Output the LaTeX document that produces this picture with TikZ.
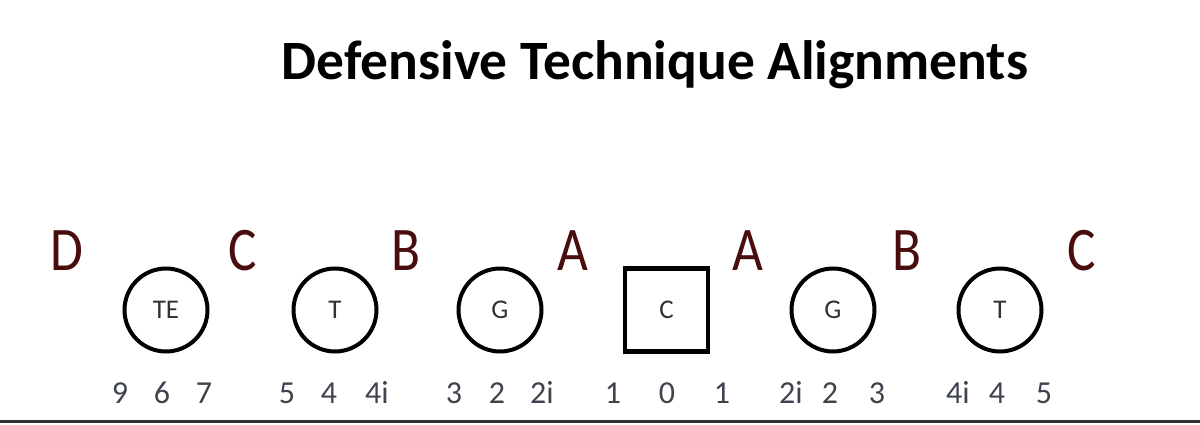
\documentclass[tikz,border=0pt]{standalone}
\usepackage{fontspec}
\setmainfont{Carlito}
\newfontfamily\gapfont[FakeStretch=0.86]{Carlito}
\definecolor{gapred}{HTML}{4A0D0D}
\definecolor{numgray}{HTML}{3E434D}
\definecolor{lblgray}{HTML}{333333}
\begin{document}
\begin{tikzpicture}[x=1pt,y=1pt,
  playerbox/.style={draw=black,line width=4pt,circle,minimum size=83pt,inner sep=0pt,
    text=lblgray,font=\fontsize{27}{27}\selectfont},
  centerbox/.style={draw=black,line width=4.5pt,rectangle,minimum size=83pt,inner sep=0pt,
    text=lblgray,font=\fontsize{27}{27}\selectfont},
  gap/.style={font=\gapfont\fontsize{62}{62}\selectfont,text=gapred,anchor=base,inner sep=0pt},
  tech/.style={font=\fontsize{32}{32}\selectfont,text=numgray,anchor=base,inner sep=0pt},
  title/.style={font=\bfseries\fontsize{55.5}{55.5}\selectfont,anchor=base,inner sep=0pt}]
\useasboundingbox (0,0) rectangle (1200,424);
\node[title] (ttl) at (655,344) {Defensive Technique Alignments};
% players
\node[playerbox] (te) at (166,114) {TE};
\node[playerbox] (lt) at (335,114) {T};
\node[playerbox] (lg) at (500,114) {G};
\node[centerbox] (c) at (666.5,114) {C};
\node[playerbox] (rg) at (833,114) {G};
\node[playerbox] (rt) at (1000,114) {T};
% gaps
\node[gap] (gd) at (67,154) {D};
\node[gap] (gc1) at (243,154) {C};
\node[gap] (gb1) at (406,154) {B};
\node[gap] (ga1) at (573,154) {A};
\node[gap] (ga2) at (748,154) {A};
\node[gap] (gb2) at (907,154) {B};
\node[gap] (gc2) at (1082,154) {C};
% techniques
\foreach \lab/\xx [count=\i] in {9/120,6/162,7/204,5/287,4/329,4i/377,3/454,2/497,2i/542,1/613,0/667,1/722,2i/791,2/830,3/877,4i/958,4/997,5/1044}
  \node[tech] (t\i) at (\xx,21) {\lab};
% bottom rule
\coordinate (bl) at (0,2.5);
\coordinate (br) at (1200,2.5);
\draw[line width=2.5pt,draw=lblgray] (bl) -- (br);
\end{tikzpicture}
\end{document}
